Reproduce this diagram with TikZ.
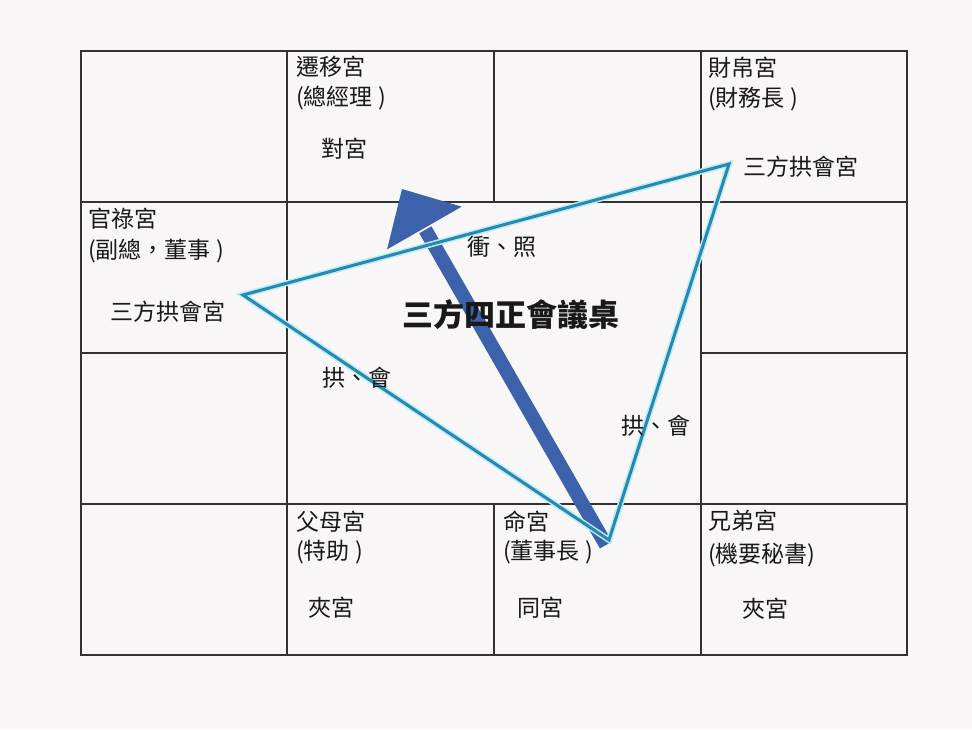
\documentclass[tikz,border=0pt]{standalone}
\usepackage{fontspec}
\setmainfont{Noto Sans CJK TC}
\usetikzlibrary{calc}
\definecolor{bgc}{RGB}{248,246,246}
\definecolor{gridc}{RGB}{50,50,50}
\definecolor{triglow}{RGB}{190,235,246}
\definecolor{tric}{RGB}{38,138,175}
\definecolor{arrc}{RGB}{60,98,172}
\definecolor{txtc}{RGB}{25,25,25}
\tikzset{
  gridline/.style={draw=gridc, line width=2.6pt},
  lbl/.style={inner sep=0pt, anchor=west, text=txtc, font=\fontsize{23}{27}\selectfont},
  lblc/.style={inner sep=0pt, anchor=center, text=txtc, font=\fontsize{23}{27}\selectfont},
  titlelbl/.style={inner sep=0pt, anchor=center, text=txtc, font=\fontsize{31}{36}\selectfont\bfseries},
  glowline/.style={draw=triglow, line width=6pt, line join=miter},
  triline/.style={draw=tric, line width=3pt, line join=miter},
}
\begin{document}
\begin{tikzpicture}[x=1pt, y=-1pt]
\useasboundingbox (0,0) rectangle (972,729);
\fill[bgc] (0,0) rectangle (972,729);
% grid
\draw[gridline] (81,51) rectangle (907,655);
\draw[gridline] (287,51) -- (287,655);
\draw[gridline] (701,51) -- (701,655);
\draw[gridline] (494,51) -- (494,202);
\draw[gridline] (494,504) -- (494,655);
\draw[gridline] (81,202) -- (907,202);
\draw[gridline] (81,504) -- (907,504);
\draw[gridline] (81,353) -- (287,353);
\draw[gridline] (701,353) -- (907,353);
% key points
\coordinate (tL) at (243,295);
\coordinate (tR) at (729,164);
\coordinate (tM) at (609,540);
\coordinate (atail) at (606,545);
\coordinate (atip) at (402,189);
\coordinate (abase) at ($(atip)!45pt!(atail)$);
\coordinate (ac1) at ($(abase)!43pt!90:(atip)$);
\coordinate (ac2) at ($(abase)!43pt!-90:(atip)$);
% arrow
\draw[arrc, line width=14pt] (atail) -- ($(abase)!-2pt!(atip)$);
\fill[arrc] (atip) -- (ac1) -- (ac2) -- cycle;
% triangle
\draw[glowline] (tL) -- (tR) -- (tM) -- cycle;
\draw[triline] (tL) -- (tR) -- (tM) -- cycle;
% labels
\node[lbl] (qy1) at (296,67) {遷移宮};
\node[lbl] (qy2) at (296,98) {(總經理 )};
\node[lblc] (qy3) at (344,149) {對宮};
\node[lbl] (cb1) at (708,68) {財帛宮};
\node[lbl] (cb2) at (708,99) {(財務長 )};
\node[lblc] (cb3) at (801,167) {三方拱會宮};
\node[lbl] (gl1) at (88,219) {官祿宮};
\node[lbl] (gl2) at (88,251) {(副總，董事 )};
\node[lblc] (gl3) at (168,312) {三方拱會宮};
\node[lbl] (fm1) at (296,522) {父母宮};
\node[lbl] (fm2) at (296,552) {(特助 )};
\node[lblc] (fm3) at (331,608) {夾宮};
\node[lbl] (mg1) at (503,522) {命宮};
\node[lbl] (mg2) at (503,552) {(董事長 )};
\node[lblc] (mg3) at (540,608) {同宮};
\node[lbl] (xd1) at (708,521) {兄弟宮};
\node[lbl] (xd2) at (708,555) {(機要秘書)};
\node[lblc] (xd3) at (765,609) {夾宮};
\node[lblc] (cz) at (502,247) {衝、照};
\node[lblc] (gh1) at (357,378) {拱、會};
\node[lblc] (gh2) at (656,426) {拱、會};
\node[titlelbl] (title) at (511,315) {三方四正會議桌};
\end{tikzpicture}
\end{document}
